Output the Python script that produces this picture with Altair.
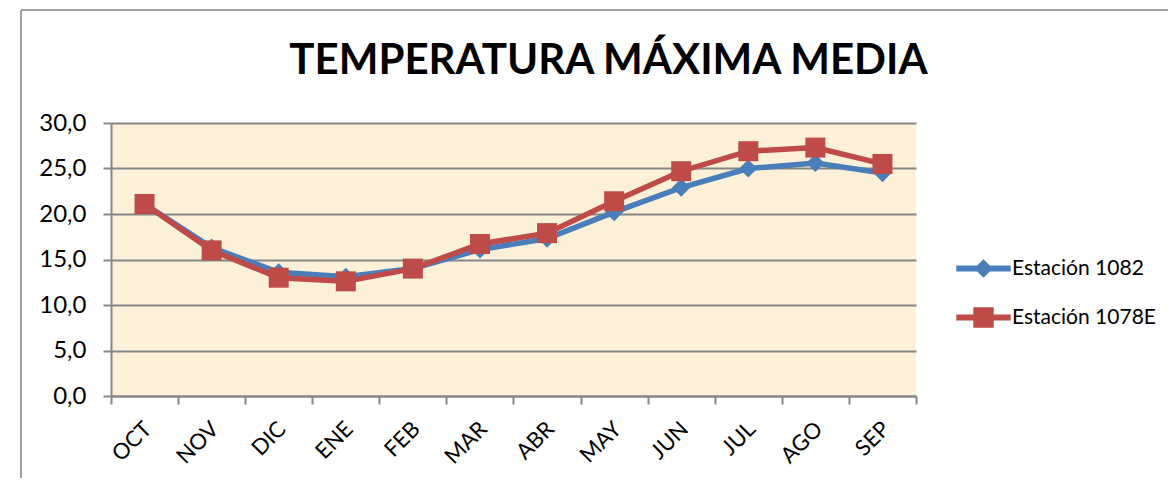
import altair as alt
import pandas as pd

months = ["OCT", "NOV", "DIC", "ENE", "FEB", "MAR", "ABR", "MAY", "JUN", "JUL", "AGO", "SEP"]
est_1082 = [21.1, 16.3, 13.6, 13.1, 14.0, 16.1, 17.3, 20.2, 22.9, 25.0, 25.6, 24.5]
est_1078e = [21.1, 16.0, 13.0, 12.6, 14.0, 16.7, 17.9, 21.4, 24.7, 26.9, 27.3, 25.5]
series = ["Estación 1082", "Estación 1078E"]
colors = ["#4A7EBB", "#BE4B48"]

rows = []
for m, a, b in zip(months, est_1082, est_1078e):
    rows.append({"mes": m, "serie": series[0], "valor": a})
    rows.append({"mes": m, "serie": series[1], "valor": b})
df = pd.DataFrame(rows)

FONT = "Lato"

x = alt.X("mes:N", sort=months, title=None,
          scale=alt.Scale(paddingInner=0, paddingOuter=0),
          axis=alt.Axis(labelAngle=-45, tickBand="extent", labelFontSize=22,
                        labelFont=FONT, labelColor="black", tickSize=8,
                        labelAlign="right", labelBaseline="top", labelOffset=-4,
                        tickColor="#868686", tickWidth=2, domainColor="#868686",
                        domainWidth=2, labelPadding=14, grid=False))
y = alt.Y("valor:Q", title=None,
          scale=alt.Scale(domain=[0, 30], nice=False, zero=True),
          axis=alt.Axis(values=[0, 5, 10, 15, 20, 25, 30],
                        labelExpr="replace(format(datum.value, '.1f'), '.', ',')",
                        labelFontSize=24, labelFont=FONT, labelColor="black",
                        tickSize=8, tickColor="#868686", tickWidth=2,
                        domainColor="#868686", domainWidth=2, labelPadding=17,
                        grid=True, gridColor="#868686", gridWidth=2))

base = alt.Chart(df).encode(x=x, y=y)

def series_layers(name, color, shape, size):
    data = base.transform_filter(alt.datum.serie == name)
    line = data.mark_line(color=color, strokeWidth=5.5)
    pts = data.mark_point(shape=shape, filled=True, color=color, size=size, opacity=1)
    return [line, pts]

blue_path = "M-3.2,-0.36L3.2,-0.36L3.2,0.36L-3.2,0.36Z M0,-1.1L1.1,0L0,1.1L-1.1,0Z"
red_path = "M-3.2,-0.36L3.2,-0.36L3.2,0.36L-3.2,0.36Z M-1.2,-1.2L1.2,-1.2L1.2,1.2L-1.2,1.2Z"

legend_layer = base.transform_filter("false").mark_point(filled=True, opacity=1).encode(
    color=alt.Color("serie:N", scale=alt.Scale(domain=series, range=colors),
                    legend=alt.Legend(title=None, orient="none", legendX=862, legendY=135,
                                      labelFontSize=21, labelFont=FONT, labelColor="black",
                                      symbolSize=289, symbolStrokeWidth=0, labelOffset=18,
                                      rowPadding=27, symbolOpacity=1, labelLimit=300)),
    shape=alt.Shape("serie:N", scale=alt.Scale(domain=series, range=[blue_path, red_path])),
)

border_top = alt.Chart(df).mark_rule(color="#A0A0A0", strokeWidth=2).encode(
    x=alt.value(-90), x2=alt.value(1100), y=alt.value(-113))
border_left = alt.Chart(df).mark_rule(color="#A0A0A0", strokeWidth=2).encode(
    x=alt.value(-90), y=alt.value(-113), y2=alt.value(400))

layers = [border_top, border_left] + series_layers(series[0], colors[0], "diamond", 330) \
    + series_layers(series[1], colors[1], "square", 400) + [legend_layer]

chart = alt.layer(*layers).properties(
    width=805, height=273,
    title=alt.TitleParams("TEMPERATURA MÁXIMA MEDIA", font=FONT, fontSize=42,
                          fontWeight="bold", color="black", dx=95, dy=120, offset=46,
                          anchor="middle", frame="group"),
    autosize=alt.AutoSizeParams(type="none"),
    padding={"left": 103, "top": 115, "right": 252, "bottom": 82},
).configure_view(fill="#FCF0D9", stroke=None)

chart.save("out.html", embed_options={"renderer": "svg", "actions": False})
